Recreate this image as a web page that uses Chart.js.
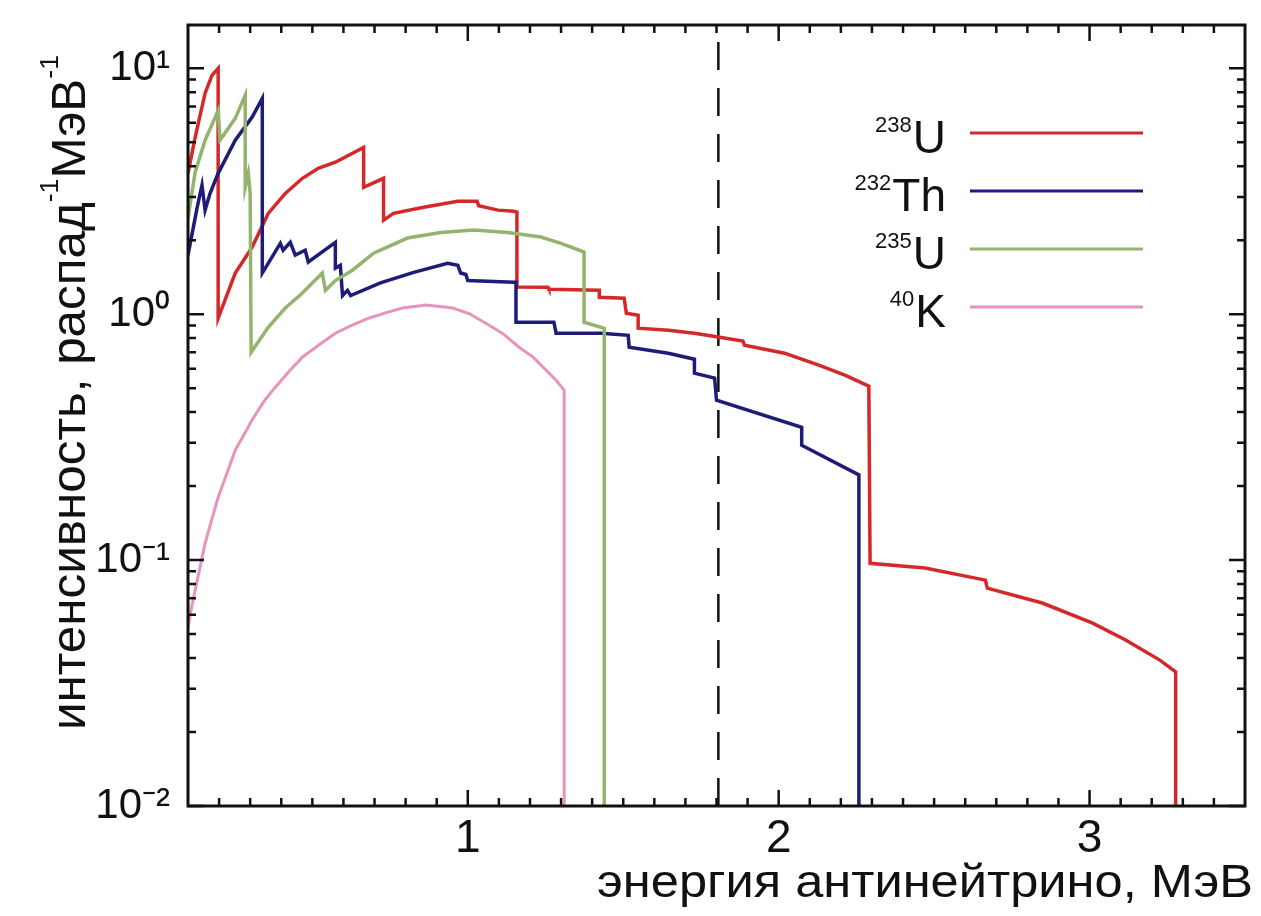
<!DOCTYPE html>
<html>
<head>
<meta charset="utf-8">
<script src="https://cdn.jsdelivr.net/npm/chart.js@4"></script>
<style>
  html, body { margin: 0; padding: 0; background: #fff; }
</style>
</head>
<body>
<canvas id="myChart" width="1261" height="916"></canvas>
<script>
// 238U
const energyU238 = [0.100, 0.123, 0.155, 0.177, 0.197, 0.197, 0.252, 0.306, 0.358, 0.413, 0.468, 0.519, 0.574, 0.665, 0.665, 0.729, 0.729, 0.761, 0.858, 0.968, 1.030, 1.035, 1.097, 1.148, 1.158, 1.158, 1.258, 1.261, 1.423, 1.423, 1.503, 1.510, 1.548, 1.548, 1.645, 1.729, 1.810, 1.885, 1.890, 2.019, 2.129, 2.213, 2.290, 2.294, 2.471, 2.665, 2.671, 2.848, 3.010, 3.116, 3.226, 3.277, 3.277];
const intensityU238 = [3.74, 5.24, 7.92, 9.36, 10.0, 0.963, 1.47, 1.87, 2.57, 3.10, 3.57, 3.92, 4.15, 4.77, 3.28, 3.57, 2.41, 2.57, 2.72, 2.88, 2.88, 2.76, 2.65, 2.62, 2.60, 1.29, 1.287, 1.264, 1.252, 1.172, 1.161, 1.01, 0.99, 0.877, 0.861, 0.837, 0.806, 0.777, 0.748, 0.694, 0.621, 0.565, 0.510, 0.097, 0.0928, 0.0829, 0.0769, 0.0669, 0.0554, 0.0473, 0.0392, 0.0351, 0.01];

// 232Th
const energyTh232 = [0.100, 0.129, 0.145, 0.155, 0.171, 0.197, 0.252, 0.306, 0.339, 0.339, 0.397, 0.406, 0.429, 0.445, 0.477, 0.487, 0.574, 0.574, 0.590, 0.597, 0.613, 0.623, 0.719, 0.826, 0.935, 0.968, 0.977, 0.994, 1.000, 1.148, 1.155, 1.155, 1.277, 1.284, 1.429, 1.516, 1.519, 1.645, 1.729, 1.729, 1.794, 1.800, 2.074, 2.074, 2.258, 2.258];
const intensityTh232 = [1.74, 2.70, 3.35, 2.65, 3.10, 3.74, 5.10, 6.32, 7.55, 1.47, 1.94, 1.82, 1.96, 1.74, 1.82, 1.63, 1.96, 1.54, 1.58, 1.19, 1.25, 1.19, 1.34, 1.48, 1.61, 1.58, 1.47, 1.45, 1.37, 1.35, 1.35, 0.928, 0.928, 0.837, 0.837, 0.821, 0.734, 0.694, 0.656, 0.576, 0.550, 0.447, 0.347, 0.293, 0.222, 0.01];

// 235U
const energyU235 = [0.100, 0.123, 0.155, 0.187, 0.197, 0.203, 0.252, 0.284, 0.284, 0.294, 0.300, 0.303, 0.358, 0.413, 0.468, 0.532, 0.542, 0.574, 0.629, 0.697, 0.806, 0.913, 1.019, 1.129, 1.235, 1.300, 1.374, 1.374, 1.439, 1.439];
const intensityU235 = [2.46, 3.78, 5.10, 6.30, 6.75, 5.10, 6.26, 7.77, 3.28, 3.74, 3.10, 0.70, 0.885, 1.06, 1.22, 1.47, 1.25, 1.37, 1.51, 1.77, 2.04, 2.15, 2.20, 2.15, 2.06, 1.94, 1.79, 0.928, 0.877, 0.01];

// 40K
const energyK40 = [0.100, 0.112, 0.123, 0.139, 0.155, 0.176, 0.197, 0.225, 0.252, 0.279, 0.306, 0.343, 0.381, 0.424, 0.468, 0.520, 0.574, 0.628, 0.681, 0.735, 0.790, 0.865, 0.952, 1.004, 1.058, 1.112, 1.165, 1.209, 1.252, 1.284, 1.310, 1.310];
const intensityK40 = [0.0534, 0.0646, 0.0755, 0.094, 0.117, 0.1455, 0.180, 0.225, 0.280, 0.322, 0.371, 0.440, 0.505, 0.583, 0.669, 0.748, 0.837, 0.902, 0.963, 1.012, 1.06, 1.09, 1.06, 1.006, 0.919, 0.835, 0.734, 0.671, 0.592, 0.539, 0.491, 0.01];

const thresholdEnergy = 1.806;

const isotopeMass = ['238', '232', '235', '40'];
const isotopeSymbol = ['U', 'Th', 'U', 'K'];
const isotopeColors = ['#d4282a', '#1e1c78', '#93b46c', '#e893bb'];

const xTickValues = [1, 2, 3];
const xTickLabels = ['1', '2', '3'];
const yTickValues = [0.01, 0.1, 1, 10];
const yTickLabels = ['10⁻²', '10⁻¹', '10⁰', '10¹'];

const xTitle = 'энергия антинейтрино, МэВ';
const yTitleParts = ['интенсивность, распад', '-1', 'МэВ', '-1'];

const regular = "'Liberation Sans', Arial, sans-serif";

function toPoints(xs, ys) {
  return xs.map((v, i) => ({ x: v, y: ys[i] }));
}

const seriesX = [energyU238, energyTh232, energyU235, energyK40];
const seriesY = [intensityU238, intensityTh232, intensityU235, intensityK40];

const datasets = seriesX.map((xs, i) => ({
  label: isotopeMass[i] + isotopeSymbol[i],
  data: toPoints(xs, seriesY[i]),
  borderColor: isotopeColors[i],
  borderWidth: i === 3 ? 3 : 3.5,
  pointRadius: 0,
  tension: 0,
  fill: false
}));
// reverse so 238U sits on top like the original
datasets.reverse();

datasets.push({
  label: 'threshold',
  data: [{ x: thresholdEnergy, y: 0.01 }, { x: thresholdEnergy, y: 15 }],
  borderColor: '#111',
  borderWidth: 2.5,
  borderDash: [28, 18],
  pointRadius: 0
});

// inward ticks on all four sides plus the black frame
const frameTicks = {
  id: 'frameTicks',
  afterDatasetsDraw(chart) {
    const { ctx, chartArea: a, scales: { x, y } } = chart;
    ctx.save();
    ctx.strokeStyle = '#111';
    ctx.lineWidth = 2.5;
    ctx.beginPath();
    for (let k = 2; k <= 34; k++) {
      const px = x.getPixelForValue(k / 10);
      const len = k % 10 === 0 ? 16 : 8;
      ctx.moveTo(px, a.bottom); ctx.lineTo(px, a.bottom - len);
      ctx.moveTo(px, a.top); ctx.lineTo(px, a.top + len);
    }
    yTickValues.forEach(d => {
      for (let m = 1; m <= 9; m++) {
        const v = d * m;
        if (v > y.max) break;
        const py = y.getPixelForValue(v);
        const len = m === 1 ? 16 : 8;
        ctx.moveTo(a.left, py); ctx.lineTo(a.left + len, py);
        ctx.moveTo(a.right, py); ctx.lineTo(a.right - len, py);
      }
    });
    ctx.stroke();
    ctx.lineWidth = 3;
    ctx.strokeRect(a.left, a.top, a.right - a.left, a.bottom - a.top);
    ctx.restore();
  }
};

// legend: label to the left, line sample to the right
const isoLegend = {
  id: 'isoLegend',
  afterDraw(chart) {
    const { ctx } = chart;
    ctx.save();
    ctx.fillStyle = '#111';
    ctx.textAlign = 'right';
    ctx.textBaseline = 'alphabetic';
    isotopeMass.forEach((m, i) => {
      const base = 153 + i * 58;
      ctx.font = '46px ' + regular;
      ctx.fillText(isotopeSymbol[i], 946, base);
      const w = ctx.measureText(isotopeSymbol[i]).width;
      ctx.font = '22px ' + regular;
      ctx.fillText(m, 946 - w - 1, base - 21);
      ctx.strokeStyle = isotopeColors[i];
      ctx.lineWidth = 3;
      ctx.beginPath();
      ctx.moveTo(970, base - 20);
      ctx.lineTo(1143, base - 20);
      ctx.stroke();
    });
    ctx.restore();
  }
};

// axis titles in a condensed face (squeezed Liberation Sans)
const axisTitles = {
  id: 'axisTitles',
  afterDraw(chart) {
    const { ctx } = chart;
    ctx.save();
    ctx.fillStyle = '#111';
    ctx.textBaseline = 'alphabetic';
    ctx.textAlign = 'left';

    // x title, right part under the plot
    ctx.font = '46px ' + regular;
    const wx = ctx.measureText(xTitle).width;
    ctx.save();
    ctx.translate(597, 897);
    ctx.scale(656 / wx, 1);
    ctx.fillText(xTitle, 0, 0);
    ctx.restore();

    // y title, rotated, with superscripts
    const sizes = [48, 26, 48, 26];
    const rises = [0, 27, 0, 27];
    let total = 0;
    const widths = yTitleParts.map((t, i) => {
      ctx.font = sizes[i] + 'px ' + regular;
      const w = ctx.measureText(t).width;
      total += w;
      return w;
    });
    ctx.save();
    ctx.translate(85, 730);
    ctx.rotate(-Math.PI / 2);
    ctx.scale(675 / total, 1);
    let pos = 0;
    yTitleParts.forEach((t, i) => {
      ctx.font = sizes[i] + 'px ' + regular;
      ctx.fillText(t, pos, -rises[i]);
      pos += widths[i];
    });
    ctx.restore();
    ctx.restore();
  }
};

const config = {
  type: 'line',
  data: { datasets: datasets },
  options: {
    responsive: false,
    animation: false,
    layout: { padding: { top: 25, right: 16, left: 0, bottom: 0 } },
    scales: {
      x: {
        type: 'linear',
        min: 0.1,
        max: 3.5,
        afterBuildTicks: s => { s.ticks = xTickValues.map(v => ({ value: v })); },
        afterFit: s => { s.height = 110; s.paddingLeft = 0; s.paddingRight = 0; },
        grid: { display: false, drawTicks: false },
        border: { display: false },
        ticks: {
          padding: 6,
          color: '#111',
          font: { family: regular, size: 46 },
          callback: (v) => xTickLabels[xTickValues.indexOf(v)]
        }
      },
      y: {
        type: 'logarithmic',
        min: 0.01,
        max: 15,
        afterBuildTicks: s => { s.ticks = yTickValues.map(v => ({ value: v })); },
        afterFit: s => { s.width = 188; s.paddingTop = 0; s.paddingBottom = 0; },
        grid: { display: false, drawTicks: false },
        border: { display: false },
        ticks: {
          padding: 18,
          color: '#111',
          font: { family: regular, size: 42 },
          callback: (v) => yTickLabels[yTickValues.indexOf(v)]
        }
      }
    },
    plugins: {
      legend: { display: false },
      tooltip: { enabled: false }
    }
  },
  plugins: [frameTicks, isoLegend, axisTitles]
};

const ctx = document.getElementById('myChart').getContext('2d');
const chart = new Chart(ctx, config);
</script>
</body>
</html>
